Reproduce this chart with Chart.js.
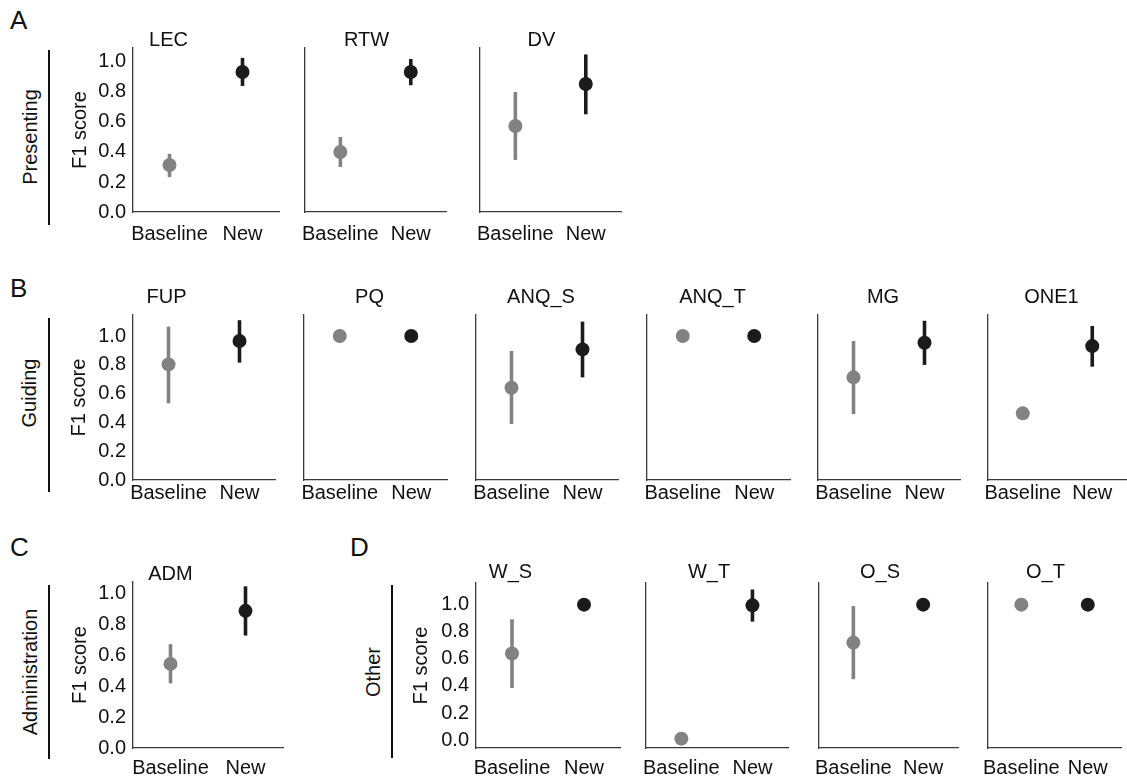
<!DOCTYPE html>
<html>
<head>
<meta charset="utf-8">
<script src="https://cdn.jsdelivr.net/npm/chart.js@4.4.0/dist/chart.umd.min.js"></script>
<style>
  body { margin: 0; background: #fff; width: 1127px; height: 780px; position: relative; overflow: hidden;
         font-family: "Liberation Sans", Arial, sans-serif; color: #111; }
  canvas { position: absolute; }
  .letter { position: absolute; font-size: 26px; line-height: 1; }
  .rowlab { position: absolute; font-size: 20px; line-height: 1; white-space: nowrap;
            transform: translate(-50%, -50%) rotate(-90deg); }
  .vline { position: absolute; width: 2px; background: #111; }
</style>
</head>
<body>
<div class="letter" style="left:10px;top:7px">A</div>
<div class="letter" style="left:10px;top:275px">B</div>
<div class="letter" style="left:10px;top:534px">C</div>
<div class="letter" style="left:350px;top:534px">D</div>

<div class="rowlab" style="left:30px;top:137px">Presenting</div>
<div class="rowlab" style="left:29px;top:393px">Guiding</div>
<div class="rowlab" style="left:30px;top:672px">Administration</div>
<div class="rowlab" style="left:373px;top:672px">Other</div>

<div class="vline" style="left:48px;top:50px;height:175px"></div>
<div class="vline" style="left:48px;top:318px;height:174px"></div>
<div class="vline" style="left:48px;top:585px;height:174px"></div>
<div class="vline" style="left:391px;top:585px;height:173px"></div>

<script>
const FONT = '"Liberation Sans", Arial, sans-serif';

// data
const categories = ["Baseline", "New"];
const panelNames = ["LEC", "RTW", "DV", "FUP", "PQ", "ANQ_S", "ANQ_T", "MG", "ONE1", "ADM", "W_S", "W_T", "O_S", "O_T"];
const baselineF1   = [0.313, 0.40, 0.573, 0.803, 1.0, 0.641, 1.0, 0.713, 0.463, 0.545, 0.64, 0.011, 0.72, 1.0];
const baselineLow  = [0.233, 0.30, 0.347, 0.533, null, 0.389, null, 0.458, null, 0.419, 0.385, null, 0.45, null];
const baselineHigh = [0.387, 0.50, 0.80, 1.065, null, 0.896, null, 0.965, null, 0.673, 0.893, null, 0.99, null];
const newF1   = [0.933, 0.933, 0.853, 0.965, 1.0, 0.907, 1.0, 0.953, 0.93, 0.889, 1.0, 0.995, 1.0, 1.0];
const newLow  = [0.84, 0.845, 0.651, 0.815, null, 0.713, null, 0.799, 0.787, 0.729, null, 0.875, null, null];
const newHigh = [1.027, 1.02, 1.05, 1.11, null, 1.10, null, 1.106, 1.07, 1.048, null, 1.112, null, null];
const yTickValues = [0, 0.2, 0.4, 0.6, 0.8, 1.0];
const yTickLabels = ["0.0", "0.2", "0.4", "0.6", "0.8", "1.0"];

const colBaseline = "#828282";
const colNew = "#1b1b1b";
const axisColor = "#3a3a3a";

// layout of the four rows of panels
const rows = [
  { panels: [0, 1, 2], lefts: [133, 305, 480], rights: [279, 452, 627],
    top: 48, bottom: 212, yMin: 0, yMax: 1.093, titleGap: 8, xPad: 12, yTitleX: 80 },
  { panels: [3, 4, 5, 6, 7, 8], lefts: [133, 304, 476, 647, 818, 988], rights: [275, 447, 618, 790, 960, 1127],
    top: 315, bottom: 480, yMin: 0, yMax: 1.146, titleGap: 18, xPad: 3, yTitleX: 79 },
  { panels: [9], lefts: [133], rights: [283],
    top: 582, bottom: 748, yMin: 0, yMax: 1.076, titleGap: 8, xPad: 10, yTitleX: 80 },
  { panels: [10, 11, 12, 13], lefts: [476, 646, 818, 988], rights: [620, 792, 962, 1127],
    top: 583, bottom: 748, yMin: -0.058, yMax: 1.16, titleGap: 11, xPad: 10, yTitleX: 421 },
];

function errBar(cat, lo, hi, color) {
  return {
    data: [{ x: cat, y: lo }, { x: cat, y: hi }],
    borderColor: color,
    borderWidth: 3.6,
    borderCapStyle: "butt",
    pointRadius: 0,
    pointHoverRadius: 0,
    fill: false,
    clip: false,
  };
}

function makePanel(idx, row, col) {
  const L = row.lefts[col], R = row.rights[col];
  const W = R - L, H = row.bottom - row.top;
  const first = col === 0;
  const padL = first ? 75 : 12, padR = 12, padB = 40;
  const titleTop = 10, titleBottom = row.titleGap - 10;
  const titleH = 20 + titleTop + titleBottom;

  const canvas = document.createElement("canvas");
  canvas.width = padL + W + padR;
  canvas.height = titleH + H + padB;
  canvas.style.left = (L - padL) + "px";
  canvas.style.top = (row.top - titleH) + "px";
  document.body.appendChild(canvas);

  const datasets = [{
    data: [{ x: categories[0], y: baselineF1[idx] }, { x: categories[1], y: newF1[idx] }],
    showLine: false,
    pointRadius: 7,
    pointHoverRadius: 7,
    pointBorderWidth: 0,
    pointBackgroundColor: [colBaseline, colNew],
    pointBorderColor: [colBaseline, colNew],
    clip: false,
  }];
  if (baselineLow[idx] !== null) datasets.push(errBar(categories[0], baselineLow[idx], baselineHigh[idx], colBaseline));
  if (newLow[idx] !== null) datasets.push(errBar(categories[1], newLow[idx], newHigh[idx], colNew));

  const textFont = { family: FONT, size: 20, lineHeight: 1, weight: "normal" };

  const chart = new Chart(canvas, {
    type: "line",
    data: { labels: categories, datasets: datasets },
    options: {
      responsive: false,
      animation: false,
      devicePixelRatio: 1,
      layout: { padding: { left: 0, right: padR, top: 0, bottom: 0 } },
      plugins: {
        legend: { display: false },
        tooltip: { enabled: false },
        title: {
          display: true,
          text: panelNames[idx],
          color: "#111",
          font: textFont,
          padding: { top: titleTop, bottom: titleBottom },
        },
      },
      scales: {
        x: {
          type: "category",
          offset: true,
          grid: { display: false, drawTicks: false },
          border: { display: true, color: axisColor, width: 1.3 },
          ticks: { color: "#111", font: textFont, padding: row.xPad, maxRotation: 0, autoSkip: false },
          afterFit: (s) => { s.height = padB; },
        },
        y: {
          type: "linear",
          min: row.yMin,
          max: row.yMax,
          grid: { display: false, drawTicks: false },
          border: { display: true, color: axisColor, width: 1.3 },
          ticks: {
            display: first,
            color: "#111",
            font: textFont,
            padding: 7,
            callback: (v, i) => yTickLabels[i],
          },
          afterBuildTicks: (s) => { s.ticks = yTickValues.map((v) => ({ value: v })); },
          title: {
            display: first,
            text: "F1 score",
            color: "#111",
            font: textFont,
            padding: { top: row.yTitleX - (L - padL) - 10, bottom: 0 },
          },
          afterFit: (s) => { s.width = padL; },
        },
      },
    },
  });

  // line the plot area up with the reference exactly
  const ca = chart.chartArea;
  canvas.style.left = (L - ca.left) + "px";
  canvas.style.top = (row.top - ca.top) + "px";
}

rows.forEach((row) => {
  row.panels.forEach((idx, col) => makePanel(idx, row, col));
});
</script>
</body>
</html>
